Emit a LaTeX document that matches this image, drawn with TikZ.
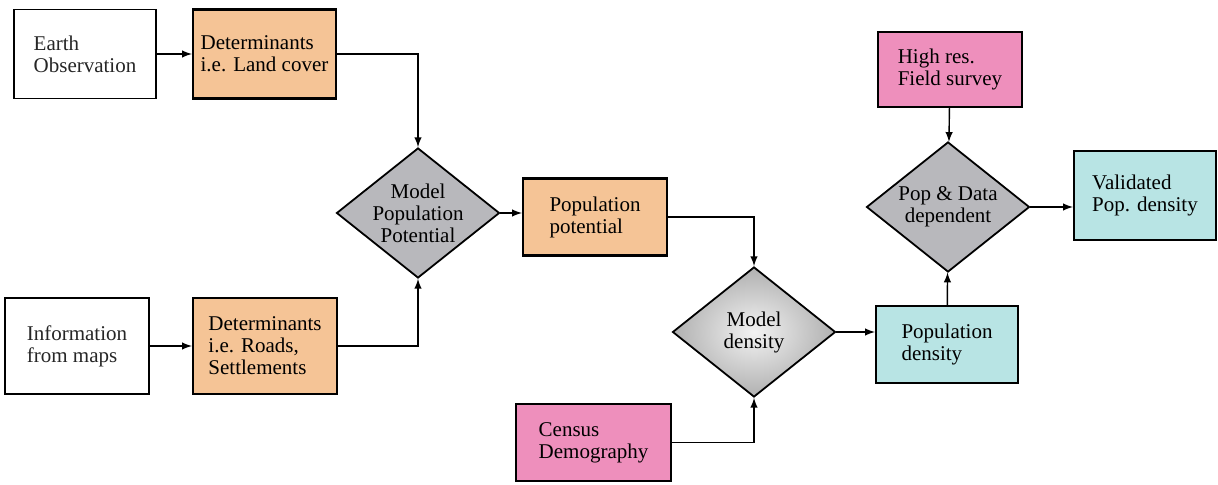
\documentclass[tikz,border=0pt]{standalone}
\usepackage{fontspec}
\setmainfont{Liberation Serif}
\usepackage{tikz}
\usetikzlibrary{arrows,shapes}

\definecolor{detorange}{RGB}{245,196,150}
\definecolor{srcpink}{RGB}{238,143,188}
\definecolor{outcyan}{RGB}{184,228,228}
\definecolor{modelgray}{RGB}{184,184,188}

\begin{document}
\begin{tikzpicture}[x=0.5pt, y=-0.5pt, auto, font=\fontsize{10.5pt}{11pt}\selectfont]
		\tikzstyle{src_item} = [rectangle, draw, line width=0.75pt, fill=white,
		inner sep=0pt, align=left, text=black!85]
		\tikzstyle{det_item} = [rectangle, draw, line width=1.1pt, fill=detorange,
		inner sep=0pt, align=left]
		\tikzstyle{survey_item} = [rectangle, draw, line width=1.1pt, fill=srcpink,
		inner sep=0pt, align=left]
		\tikzstyle{result_item} = [rectangle, draw, line width=1.1pt, fill=outcyan,
		inner sep=0pt, align=left]
		\tikzstyle{model_item} = [diamond, draw, line width=0.9pt, fill=modelgray,
		inner sep=-3pt, align=center, minimum width=81.5pt, minimum height=65pt]
		\tikzstyle{flow} = [->, line width=0.7pt, >=latex]
		\useasboundingbox (0,0) rectangle (1218,485);
		\node[src_item, minimum width=71pt, minimum height=44.5pt] (earth) at (85, 54) {Earth\\Observation};
		\node[det_item, minimum width=71.5pt, minimum height=44.5pt] (landcover) at (264.5, 54) {Determinants\\i.e. Land cover};
		\node[src_item, minimum width=72pt, minimum height=48pt] (maps) at (77, 346) {Information\\from maps};
		\node[det_item, minimum width=72pt, minimum height=48pt] (roads) at (265, 346) {Determinants\\i.e. Roads,\\Settlements};
		\node[model_item] (potmodel) at (418, 213) {Model\\Population\\Potential};
		\node[det_item, minimum width=72pt, minimum height=38.5pt] (potential) at (595, 217) {Population\\potential};
		\node[survey_item, minimum width=77.5pt, minimum height=38.5pt] (census) at (593.5, 442.5) {Census\\Demography};
		\node[model_item, fill=none, shading=radial, inner color=gray!10,
		outer color=gray!62] (densmodel) at (754, 332) {Model\\density};
		\node[result_item, minimum width=71pt, minimum height=38.5pt] (density) at (947, 344.5) {Population\\density};
		\node[survey_item, minimum width=72pt, minimum height=37.5pt] (field) at (950, 69.5) {High res.\\Field survey};
		\node[model_item] (validmodel) at (948, 207) {Pop \& Data\\dependent};
		\node[result_item, minimum width=71pt, minimum height=44.5pt] (validated) at (1145, 195.5) {Validated\\Pop. density};
		\path[flow]
		(earth) edge (landcover)
		(maps) edge (roads)
		(potmodel.east) edge (potmodel.east -| potential.west)
		(densmodel.east) edge (densmodel.east -| density.west)
		(density) edge (validmodel)
		(field) edge (validmodel)
		(validmodel.east) edge (validmodel.east -| validated.west);
		\draw[flow] (landcover.east) -| (potmodel.north);
		\draw[flow] (roads.east) -| (potmodel.south);
		\draw[flow] (potential.east) -| (densmodel.north);
		\draw[flow] (census.east) -| (densmodel.south);
	\end{tikzpicture}
\end{document}
